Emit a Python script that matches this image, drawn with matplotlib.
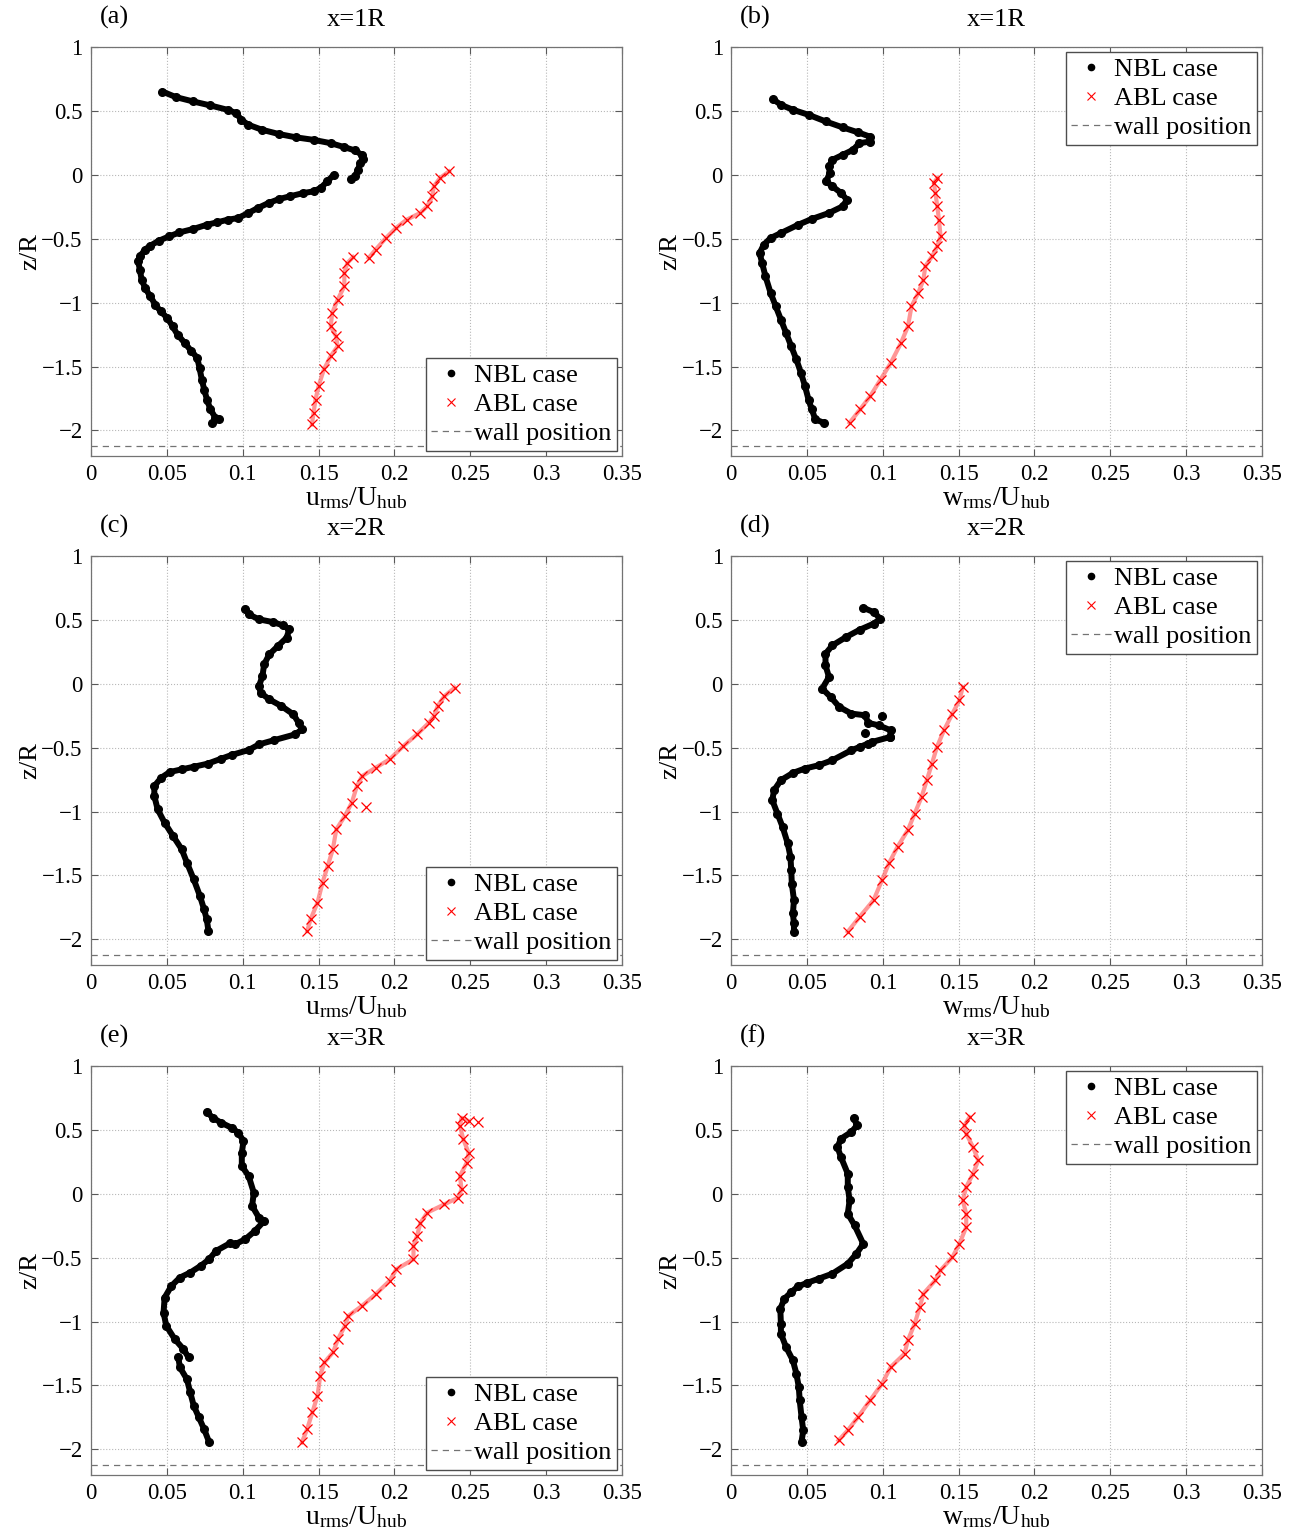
import numpy as np
import matplotlib
matplotlib.use("Agg")
import matplotlib.pyplot as plt

plt.rcParams['font.family'] = ['Liberation Serif', 'DejaVu Serif']
plt.rcParams['mathtext.fontset'] = 'custom'
plt.rcParams['mathtext.rm'] = 'Liberation Serif'
plt.rcParams['mathtext.it'] = 'Liberation Serif:italic'

nan = np.nan
wall_z = -2.12

# ---- panel (a): u_rms, x=1R ----
a_nbl_x = [0.047, 0.056, 0.0674, 0.0787, 0.090, 0.0957, 0.099, 0.1037, 0.1127, 0.124, 0.1354, 0.1467,
           0.158, 0.167, 0.174, 0.1785, 0.1796, 0.1774, 0.176, 0.174, 0.1717, nan,
           0.160, 0.1558, 0.1513, 0.1467, 0.140, 0.131, 0.124, 0.117, 0.110, 0.1037, 0.0968, 0.090,
           0.0832, 0.0764, 0.0674, 0.0583, 0.0515, 0.0447, 0.039, 0.0356, 0.0322, 0.031, 0.0322,
           0.0333, 0.0356, 0.039, 0.0424, 0.0458, 0.0503, 0.0537, 0.057, 0.0617, 0.0662, 0.070,
           0.0715, 0.073, 0.0746, 0.0764, 0.0787, 0.082, 0.0844, 0.0798]
a_nbl_z = [0.651, 0.607, 0.573, 0.542, 0.508, 0.482, 0.430, 0.391, 0.352, 0.318, 0.292, 0.273,
           0.247, 0.216, 0.190, 0.156, 0.125, 0.091, 0.039, -0.013, -0.034, nan,
           0.0, -0.052, -0.104, -0.130, -0.143, -0.169, -0.190, -0.221, -0.260, -0.299, -0.339, -0.352,
           -0.372, -0.391, -0.424, -0.451, -0.482, -0.516, -0.555, -0.586, -0.638, -0.677, -0.742,
           -0.820, -0.885, -0.951, -1.016, -1.068, -1.120, -1.185, -1.250, -1.315, -1.380, -1.432,
           -1.510, -1.602, -1.680, -1.758, -1.836, -1.901, -1.914, -1.940]
a_abl_x = [0.1456, 0.1467, 0.148, 0.150, 0.1535, 0.158, 0.1626, 0.1615, 0.158, 0.159, 0.1626, 0.167,
           0.167, 0.169, 0.1728, nan, 0.183, 0.1876, 0.1944, 0.201, 0.208, 0.217, 0.2216, 0.225,
           0.226, 0.230, 0.236]
a_abl_z = [-1.953, -1.862, -1.758, -1.654, -1.523, -1.419, -1.341, -1.263, -1.185, -1.081, -0.977, -0.872,
           -0.768, -0.690, -0.643, nan, -0.651, -0.586, -0.495, -0.417, -0.352, -0.299, -0.247, -0.169,
           -0.091, -0.026, 0.026]

# ---- panel (b): w_rms, x=1R ----
b_nbl_x = [0.0276, 0.0328, 0.0408, 0.051, 0.0623, 0.0736, 0.0838, 0.0913, 0.0917, 0.0845, 0.0804, 0.0736,
           0.0668, 0.0645, 0.065, 0.0627, 0.0668, 0.0725, 0.0763, 0.0736, 0.0645, 0.0532, 0.0442, 0.0328,
           0.026, 0.0215, 0.0188, 0.0204, 0.0226, 0.026, 0.0294, 0.0328, 0.0362, 0.0396, 0.043, 0.046,
           0.0487, 0.051, 0.0532, 0.0555, 0.0611]
b_nbl_z = [0.591, 0.547, 0.508, 0.469, 0.417, 0.370, 0.331, 0.299, 0.260, 0.247, 0.195, 0.156,
           0.117, 0.065, 0.013, -0.052, -0.091, -0.143, -0.195, -0.247, -0.299, -0.346, -0.391, -0.456,
           -0.495, -0.547, -0.612, -0.690, -0.794, -0.924, -1.029, -1.133, -1.237, -1.341, -1.445, -1.549,
           -1.654, -1.758, -1.836, -1.914, -1.940]
b_abl_x = [0.0781, 0.085, 0.0917, 0.0985, 0.1053, 0.112, 0.1166, 0.1189, 0.1234, 0.1268, 0.128, 0.1325,
           0.1359, 0.1381, 0.137, 0.1359, 0.1347, 0.1336, 0.1359]
b_abl_z = [-1.940, -1.836, -1.732, -1.602, -1.471, -1.315, -1.185, -1.029, -0.924, -0.820, -0.716, -0.638,
           -0.560, -0.482, -0.352, -0.247, -0.143, -0.065, -0.026]

# ---- panel (c): u_rms, x=2R ----
c_nbl_x = [0.1017, 0.104, 0.1107, 0.1198, 0.1266, 0.1307, 0.1289, 0.1232, 0.1175, 0.1141, 0.113, 0.1107,
           0.1118, 0.1175, 0.1255, 0.1334, 0.1368, 0.139, 0.1345, 0.1209, 0.1107, 0.1039, 0.0926, 0.0858,
           0.0768, 0.0677, 0.0598, 0.0519, 0.0462, 0.0417, 0.0417, 0.0439, 0.0485, 0.0541, 0.0598, 0.0632,
           0.0677, 0.0718, 0.0745, 0.0763, 0.0774]
c_nbl_z = [0.586, 0.542, 0.503, 0.482, 0.456, 0.424, 0.359, 0.294, 0.229, 0.151, 0.059, -0.019,
           -0.071, -0.123, -0.175, -0.240, -0.305, -0.358, -0.397, -0.441, -0.475, -0.519, -0.558, -0.587,
           -0.626, -0.650, -0.670, -0.691, -0.736, -0.801, -0.879, -0.983, -1.088, -1.192, -1.296, -1.400,
           -1.531, -1.661, -1.765, -1.844, -1.935]
c_abl_x = [0.1425, 0.1447, 0.1493, 0.1526, 0.156, 0.1594, 0.1617, 0.1673, 0.1719, 0.1753, 0.1787, 0.1877,
           0.1968, 0.2059, 0.2149, 0.2228, 0.2262, 0.2285, 0.233, 0.2398]
c_abl_z = [-1.935, -1.844, -1.713, -1.557, -1.427, -1.296, -1.140, -1.036, -0.931, -0.801, -0.723, -0.657,
           -0.592, -0.488, -0.397, -0.305, -0.253, -0.175, -0.097, -0.032]
c_abl_out_x = [0.181]
c_abl_out_z = [-0.962]

# ---- panel (d): w_rms, x=2R ----
d_nbl_x = [0.0871, 0.0939, 0.0984, 0.0939, 0.0848, 0.0758, 0.0667, 0.0622, 0.0622, 0.0645, 0.060, 0.0656,
           0.0713, 0.0792, 0.0882, 0.0905, 0.0973, 0.1052, 0.1048, 0.0928, 0.0848, 0.0792, 0.0667,
           0.0577, 0.0486, 0.0407, 0.0328, 0.0283, 0.0271, 0.0305, 0.0339, 0.0373, 0.0391, 0.0396, 0.040,
           0.0414, 0.0407, 0.0414, 0.0414]
d_nbl_z = [0.594, 0.560, 0.508, 0.469, 0.422, 0.365, 0.299, 0.234, 0.143, 0.052, -0.039, -0.104,
           -0.182, -0.234, -0.247, -0.307, -0.326, -0.365, -0.417, -0.456, -0.495, -0.521, -0.599,
           -0.638, -0.664, -0.698, -0.755, -0.833, -0.911, -1.016, -1.120, -1.250, -1.354, -1.458, -1.563,
           -1.693, -1.797, -1.875, -1.940]
d_nbl_sc_x = [0.0995, 0.0882, 0.1048, 0.0905]
d_nbl_sc_z = [-0.253, -0.385, -0.417, -0.470]
d_abl_x = [0.0769, 0.0848, 0.0939, 0.0995, 0.104, 0.1097, 0.1165, 0.121, 0.1256, 0.129, 0.1324, 0.1357,
           0.1403, 0.1459, 0.1505, 0.1527]
d_abl_z = [-1.940, -1.823, -1.693, -1.536, -1.406, -1.276, -1.146, -1.016, -0.885, -0.755, -0.625, -0.495,
           -0.365, -0.234, -0.130, -0.026]

# ---- panel (e): u_rms, x=3R ----
e_nbl_x = [0.0763, 0.0802, 0.0858, 0.0926, 0.0971, 0.1005, 0.0994, 0.0994, 0.1039, 0.1073, 0.1062, 0.1107,
           0.1141, 0.108, 0.1016, 0.0949, nan, 0.0915, 0.0824, 0.0779, 0.0722, 0.0654, 0.0586, 0.053,
           0.0485, 0.0478, 0.0496, 0.0552, 0.0609, 0.0643, nan, 0.0575, 0.0586, 0.0632, 0.0654, 0.0677,
           0.0711, 0.0745, 0.0779]
e_nbl_z = [0.641, 0.594, 0.555, 0.516, 0.477, 0.411, 0.320, 0.216, 0.138, 0.008, -0.096, -0.188,
           -0.214, -0.292, -0.357, -0.396, nan, -0.388, -0.448, -0.513, -0.565, -0.617, -0.656, -0.721,
           -0.813, -0.930, -1.034, -1.138, -1.216, -1.281, nan, -1.281, -1.359, -1.451, -1.555, -1.659,
           -1.750, -1.841, -1.945]
e_abl_x = [0.139, 0.1425, 0.1459, 0.1493, 0.1511, 0.1538, 0.1595, 0.1628, 0.1674, 0.1696, 0.1786, 0.1877,
           0.1968, 0.2013, 0.2126, 0.2126, 0.2149, 0.2172, 0.2217, 0.233, 0.2421, 0.2443, 0.2432, 0.2477,
           0.2489, 0.2455, 0.2432, 0.2443, 0.2489]
e_abl_z = [-1.945, -1.841, -1.711, -1.581, -1.424, -1.320, -1.242, -1.138, -1.034, -0.956, -0.878, -0.786,
           -0.682, -0.591, -0.513, -0.409, -0.331, -0.227, -0.148, -0.083, -0.031, 0.034, 0.138, 0.242,
           0.320, 0.424, 0.529, 0.594, 0.568]
e_abl_out_x = [0.2552]
e_abl_out_z = [0.560]

# ---- panel (f): w_rms, x=3R ----
f_nbl_x = [0.0808, 0.083, 0.0792, 0.0724, 0.0701, 0.0724, 0.0769, 0.0769, 0.0781, 0.0769, 0.0814, 0.0871,
           0.0826, 0.0769, 0.0667, 0.0577, 0.0498, 0.0441, 0.0396, 0.0351, 0.0324, 0.0328, 0.0328, 0.0362,
           0.0407, 0.043, 0.0446, 0.0452, 0.0464, 0.0475, 0.0464]
f_nbl_z = [0.594, 0.534, 0.482, 0.430, 0.364, 0.286, 0.156, 0.052, -0.052, -0.157, -0.248, -0.392,
           -0.470, -0.548, -0.626, -0.665, -0.699, -0.725, -0.770, -0.822, -0.900, -1.017, -1.095, -1.200,
           -1.304, -1.408, -1.513, -1.617, -1.747, -1.851, -1.943]
f_abl_x = [0.0708, 0.0769, 0.0837, 0.0916, 0.0995, 0.1052, 0.1143, 0.1165, 0.121, 0.1244, 0.1267, 0.1346,
           0.138, 0.1459, 0.1505, 0.155, 0.155, 0.1527, 0.155, 0.1595, 0.1629, 0.1595, 0.155, 0.1538, 0.1572]
f_abl_z = [-1.930, -1.851, -1.747, -1.617, -1.486, -1.356, -1.252, -1.148, -1.017, -0.887, -0.783, -0.678,
           -0.600, -0.496, -0.392, -0.261, -0.157, -0.053, 0.052, 0.156, 0.260, 0.364, 0.469, 0.534, 0.599]

panels = [
    ('(a)', 'x=1R', 'u', a_nbl_x, a_nbl_z, a_abl_x, a_abl_z, [], [], [], []),
    ('(b)', 'x=1R', 'w', b_nbl_x, b_nbl_z, b_abl_x, b_abl_z, [], [], [], []),
    ('(c)', 'x=2R', 'u', c_nbl_x, c_nbl_z, c_abl_x, c_abl_z, [], [], c_abl_out_x, c_abl_out_z),
    ('(d)', 'x=2R', 'w', d_nbl_x, d_nbl_z, d_abl_x, d_abl_z, d_nbl_sc_x, d_nbl_sc_z, [], []),
    ('(e)', 'x=3R', 'u', e_nbl_x, e_nbl_z, e_abl_x, e_abl_z, [], [], e_abl_out_x, e_abl_out_z),
    ('(f)', 'x=3R', 'w', f_nbl_x, f_nbl_z, f_abl_x, f_abl_z, [], [], [], []),
]

xticks = [0, 0.05, 0.1, 0.15, 0.2, 0.25, 0.3, 0.35]
xticklabels = ['0', '0.05', '0.1', '0.15', '0.2', '0.25', '0.3', '0.35']
yticks = [-2, -1.5, -1, -0.5, 0, 0.5, 1]
yticklabels = ['\u22122', '\u22121.5', '\u22121', '\u22120.5', '0', '0.5', '1']

fig = plt.figure(figsize=(13.01, 15.38), dpi=100)
lefts = [0.070, 0.562]
bottoms = [0.7035, 0.3726, 0.041]
w, h = 0.408, 0.266

for i, (tag, title, comp, nx, nz, ax_, az_, sx, sz, ox, oz) in enumerate(panels):
    ax = fig.add_axes([lefts[i % 2], bottoms[i // 2], w, h])
    # dense measured profiles drawn as thick traces with markers
    ax.plot(nx, nz, '-', color='k', lw=4.3, solid_capstyle='round', solid_joinstyle='round')
    ax.plot(nx, nz, 'o', color='k', ms=5.5)
    if sx:
        ax.plot(sx, sz, 'o', color='k', ms=5.5)
    ax.plot(ax_, az_, '-', color='#ff4040', lw=3.0, alpha=0.55)
    ax.plot(ax_, az_, 'x', color='r', ms=7, mew=0.9)
    if ox:
        ax.plot(ox, oz, 'x', color='r', ms=7, mew=0.9)
    ax.axhline(wall_z, color='0.45', ls=(0, (5, 4)), lw=0.9)

    # legend proxies
    ax.plot([], [], '.', color='k', ms=9, label='NBL case')
    ax.plot([], [], 'x', color='r', ms=6, mew=0.8, label='ABL case')
    ax.plot([], [], color='0.45', ls=(0, (5, 4)), lw=0.9, label='wall position')

    ax.set_xlim(0, 0.35)
    ax.set_ylim(-2.2, 1)
    ax.set_xticks(xticks)
    ax.set_xticklabels(xticklabels)
    ax.set_yticks(yticks)
    ax.set_yticklabels(yticklabels)
    ax.tick_params(direction='in', length=5, width=0.8, top=True, right=True,
                   labelsize=16.5, color='0.35', pad=6)
    ax.grid(True, ls=':', color='0.72', lw=0.8)
    for s in ax.spines.values():
        s.set_color('0.45')
        s.set_linewidth(0.9)

    ax.set_xlabel(r'$\mathregular{%s_{rms}/U_{hub}}$' % comp, fontsize=20, labelpad=0)
    ax.set_ylabel('z/R', fontsize=19, labelpad=0)
    ax.set_title(title, fontsize=19, pad=15)
    ax.text(0.017, 1.071, tag, transform=ax.transAxes, fontsize=19, va='center', ha='left')

    loc = 'lower right' if i % 2 == 0 else 'upper right'
    ax.legend(loc=loc, fontsize=19, frameon=True, fancybox=False, framealpha=1,
              edgecolor='0.3', borderaxespad=0.2, handlelength=1.5, handletextpad=0.12,
              labelspacing=0.22, borderpad=0.2)

fig.savefig('out.png', dpi=100)
